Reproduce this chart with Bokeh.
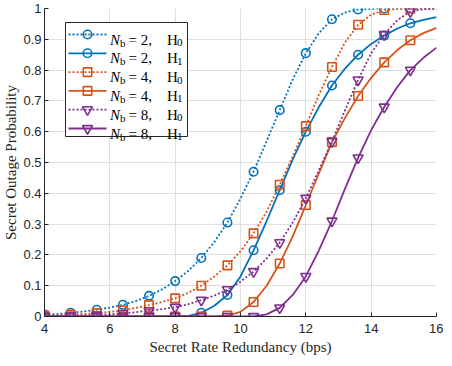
from bokeh.plotting import figure
from bokeh.models import Range1d, FixedTicker, NumeralTickFormatter, ColumnDataSource
from bokeh.core.properties import value
from bokeh.embed import file_html
from bokeh.resources import INLINE

# ---------------- data ----------------
rate = [4.0, 4.4, 4.8, 5.2, 5.6, 6.0, 6.4, 6.8, 7.2, 7.6, 8.0, 8.4, 8.8, 9.2, 9.6,
        10.0, 10.4, 10.8, 11.2, 11.6, 12.0, 12.4, 12.8, 13.2, 13.6, 14.0, 14.4,
        14.8, 15.2, 15.6, 16.0]

nb2_h0 = [0.006, 0.008, 0.012, 0.016, 0.022, 0.029, 0.038, 0.050, 0.067, 0.088,
          0.115, 0.148, 0.190, 0.242, 0.305, 0.383, 0.470, 0.570, 0.670, 0.770,
          0.855, 0.920, 0.965, 0.987, 0.997, 0.999, 1.0, 1.0, 1.0, 1.0, 1.0]
nb2_h1 = [0, 0, 0, 0, 0, 0, 0, 0, 0, 0, 0, 0.002, 0.012, 0.035, 0.070, 0.130,
          0.215, 0.310, 0.410, 0.510, 0.600, 0.680, 0.750, 0.805, 0.850, 0.885,
          0.912, 0.935, 0.952, 0.963, 0.972]
nb4_h0 = [0.003, 0.004, 0.006, 0.008, 0.011, 0.015, 0.020, 0.028, 0.037, 0.047,
          0.059, 0.077, 0.100, 0.130, 0.166, 0.212, 0.270, 0.340, 0.428, 0.520,
          0.618, 0.720, 0.810, 0.890, 0.947, 0.980, 0.995, 0.999, 1.0, 1.0, 1.0]
nb4_h1 = [0, 0, 0, 0, 0, 0, 0, 0, 0, 0, 0, 0, 0, 0, 0.003, 0.015, 0.047, 0.100,
          0.172, 0.260, 0.362, 0.465, 0.566, 0.645, 0.716, 0.775, 0.825, 0.865,
          0.897, 0.920, 0.937]
nb8_h0 = [0.001, 0.0015, 0.002, 0.003, 0.005, 0.007, 0.010, 0.014, 0.019, 0.024,
          0.030, 0.040, 0.053, 0.068, 0.087, 0.113, 0.146, 0.188, 0.240, 0.305,
          0.384, 0.475, 0.568, 0.670, 0.768, 0.855, 0.916, 0.962, 0.990, 0.998, 1.0]
nb8_h1 = [0, 0, 0, 0, 0, 0, 0, 0, 0, 0, 0, 0, 0, 0, 0, 0, 0, 0.007, 0.028, 0.070,
          0.130, 0.215, 0.310, 0.415, 0.515, 0.605, 0.680, 0.745, 0.800, 0.840,
          0.873]

x_ticks = [4, 6, 8, 10, 12, 14, 16]
y_ticks = [0, 0.1, 0.2, 0.3, 0.4, 0.5, 0.6, 0.7, 0.8, 0.9, 1.0]

nb_labels = ["2", "2", "4", "4", "8", "8"]
h_labels = ["0", "1", "0", "1", "0", "1"]

# ---------------- styles ----------------
BLUE, ORANGE, PURPLE = "#0072BD", "#D95319", "#7E2F8E"
series = [
    (nb2_h0, BLUE, "dotted", "circle"),
    (nb2_h1, BLUE, "solid", "circle"),
    (nb4_h0, ORANGE, "dotted", "square"),
    (nb4_h1, ORANGE, "solid", "square"),
    (nb8_h0, PURPLE, "dotted", "inverted_triangle"),
    (nb8_h1, PURPLE, "solid", "inverted_triangle"),
]
MSIZE = {"circle": 8.5, "square": 8.5, "inverted_triangle": 10}
DASH = {"dotted": "2 2", "solid": "solid"}
LW = 1.8

FW, FH = 392, 308
p = figure(frame_width=FW, frame_height=FH, output_backend="svg",
           toolbar_location=None, x_range=Range1d(4, 16), y_range=Range1d(0, 1),
           min_border_left=0, min_border_right=7, min_border_top=8,
           min_border_bottom=0, background_fill_color="white",
           border_fill_color="white")
p.outline_line_color = None

for ax in (p.xaxis, p.yaxis):
    ax.axis_line_color = "#262626"
    ax.axis_line_width = 1
    ax.major_tick_line_color = "#262626"
    ax.major_tick_in = 4
    ax.major_tick_out = 0
    ax.minor_tick_line_color = None
    ax.major_label_text_font = "Liberation Sans"
    ax.major_label_text_font_size = "13px"
    ax.major_label_text_color = "#262626"
    ax.axis_label_text_font = "Liberation Serif"
    ax.axis_label_text_font_size = "15px"
    ax.axis_label_text_font_style = "normal"
    ax.axis_label_text_color = "#262626"

p.xaxis.ticker = FixedTicker(ticks=x_ticks)
p.yaxis.ticker = FixedTicker(ticks=y_ticks)
p.yaxis.formatter = NumeralTickFormatter(format="0.[0]")
p.xaxis.axis_label = "Secret Rate Redundancy (bps)"
p.yaxis.axis_label = "Secret Outage Probability"
p.xaxis.major_label_standoff = 7
p.xaxis.axis_label_standoff = 3
p.yaxis.major_label_standoff = 3
p.yaxis.axis_label_standoff = 1

p.xgrid.grid_line_color = "#dfdfdf"
p.ygrid.grid_line_color = "#dfdfdf"
p.xgrid.ticker = FixedTicker(ticks=x_ticks)
p.ygrid.ticker = FixedTicker(ticks=y_ticks)

for vals, col, dash, mk in series:
    p.line(rate, vals, line_color=col, line_width=LW, line_dash=DASH[dash])
    p.scatter(rate[0:29:2], vals[0:29:2], marker=mk, size=MSIZE[mk],
              line_color=col, line_width=1.6, fill_color=None)

# ---------------- manual legend (pixel offsets in frame) ----------------
def fx(px):
    return 4 + px * 12.0 / FW

def fy(py):
    return 1 - py / float(FH)

p.quad(left=[fx(21)], right=[fx(143)], top=[fy(14)], bottom=[fy(128)],
       fill_color="white", line_color="#262626", line_width=1)

row_y = [26 + i * 18.8 for i in range(6)]
for i, (vals, col, dash, mk) in enumerate(series):
    yc = row_y[i]
    p.line([fx(24), fx(62)], [fy(yc), fy(yc)], line_color=col, line_width=LW,
           line_dash=DASH[dash])
    p.scatter([fx(43)], [fy(yc)], marker=mk, size=MSIZE[mk], line_color=col,
              line_width=1.6, fill_color=None)

serif = value("Liberation Serif")
src_n = ColumnDataSource(dict(x=[fx(65.5)] * 6, y=[fy(r + 5) for r in row_y],
                              t=["N"] * 6))
src_b = ColumnDataSource(dict(x=[fx(75.5)] * 6, y=[fy(r + 8) for r in row_y],
                              t=["b"] * 6))
src_eq = ColumnDataSource(dict(x=[fx(84)] * 6, y=[fy(r + 5) for r in row_y],
                               t=["= " + n + "," for n in nb_labels]))
src_h = ColumnDataSource(dict(x=[fx(122.5)] * 6, y=[fy(r + 5) for r in row_y],
                              t=["H"] * 6))
src_0 = ColumnDataSource(dict(x=[fx(132.5)] * 6, y=[fy(r + 8) for r in row_y],
                              t=h_labels))
p.text(x="x", y="y", text="t", source=src_n, text_font=serif,
       text_font_style="italic", text_font_size="15px", text_color="black",
       text_baseline="alphabetic", text_align="left")
p.text(x="x", y="y", text="t", source=src_b, text_font=serif,
       text_font_size="11px", text_color="black",
       text_baseline="alphabetic", text_align="left")
p.text(x="x", y="y", text="t", source=src_eq, text_font=serif,
       text_font_size="15px", text_color="black",
       text_baseline="alphabetic", text_align="left")
p.text(x="x", y="y", text="t", source=src_h, text_font=serif,
       text_font_size="15px", text_color="black",
       text_baseline="alphabetic", text_align="left")
p.text(x="x", y="y", text="t", source=src_0, text_font=serif,
       text_font_size="11px", text_color="black",
       text_baseline="alphabetic", text_align="left")

open("out.html", "w").write(file_html(p, INLINE))
